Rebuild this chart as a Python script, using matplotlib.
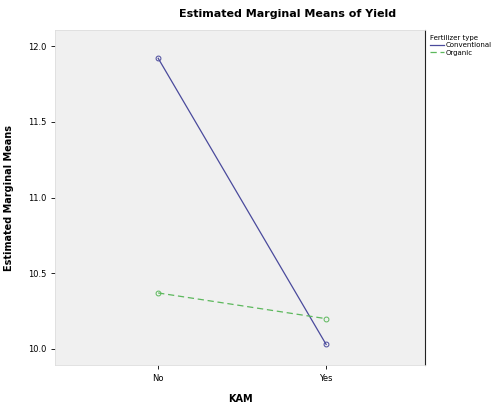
import matplotlib
matplotlib.use("Agg")
import matplotlib.pyplot as plt
from matplotlib.lines import Line2D

# Estimated marginal means
kam_levels = ["No", "Yes"]
conventional = [11.92, 10.03]
organic = [10.37, 10.20]
yticks = [10.0, 10.5, 11.0, 11.5, 12.0]

fig = plt.figure(figsize=(5.02, 4.04), dpi=100)
ax = fig.add_axes([0.110, 0.0965, 0.737, 0.829])
ax.set_facecolor("#f0f0f0")

x = range(len(kam_levels))
ax.plot(x, conventional, color="#4a4a9c", lw=0.9, marker="o", ms=3.5,
        mfc="none", mec="#4a4a9c", mew=0.7)
ax.plot(x, organic, color="#5cb85c", lw=0.9, ls=(0, (5, 3)), marker="o", ms=3.5,
        mfc="none", mec="#5cb85c", mew=0.7)

ax.set_xlim(-0.613, 1.59)
ax.set_ylim(9.894, 12.106)
ax.set_xticks(list(x))
ax.set_xticklabels(kam_levels, fontsize=6)
ax.set_yticks(yticks)
ax.set_yticklabels(["{:.1f}".format(v) for v in yticks], fontsize=6)
ax.tick_params(length=3, width=0.6)

for s in ["top", "left", "bottom"]:
    ax.spines[s].set_color("#dddddd")
    ax.spines[s].set_linewidth(0.6)
ax.spines["right"].set_color("#222222")
ax.spines["right"].set_linewidth(0.8)

ax.set_xlabel("KAM", fontsize=7, fontweight="bold", labelpad=8)
ax.set_ylabel("Estimated Marginal Means", fontsize=7, fontweight="bold", labelpad=10)
fig.text(0.572, 0.965, "Estimated Marginal Means of Yield", fontsize=8,
         fontweight="bold", ha="center", va="center")

handles = [Line2D([], [], color="#4a4a9c", lw=0.9),
           Line2D([], [], color="#5cb85c", lw=0.9, ls=(0, (5, 3)))]
leg = ax.legend(handles, ["Conventional", "Organic"], loc="upper left",
                bbox_to_anchor=(1.0, 1.0), frameon=False,
                title="Fertilizer type", fontsize=5, title_fontsize=5,
                handlelength=2.0, handletextpad=0.3, borderaxespad=0.3,
                labelspacing=0.2)
leg._legend_box.align = "left"

fig.savefig("out.png", dpi=100)
